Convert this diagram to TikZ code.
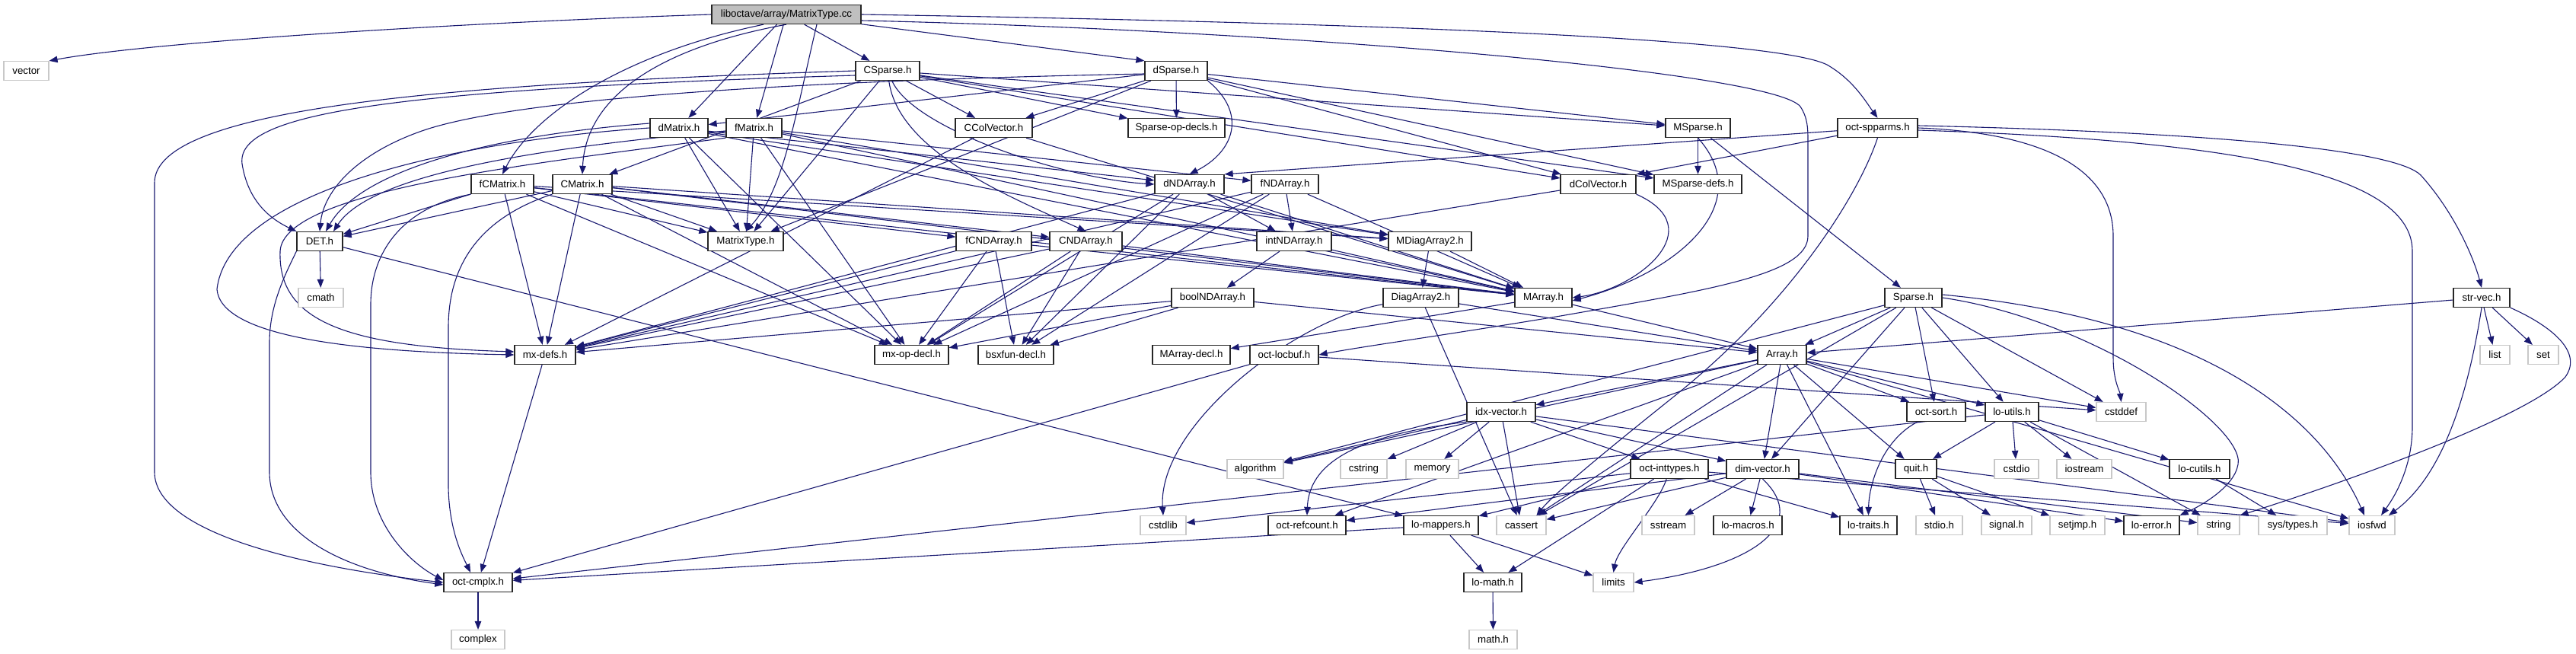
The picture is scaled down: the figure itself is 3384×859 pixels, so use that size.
\documentclass[tikz,border=0pt]{standalone}
\usepackage{fontspec}
\setmainfont{Liberation Sans}
\usetikzlibrary{arrows.meta}
\definecolor{edgec}{HTML}{191970}
\definecolor{rootfill}{HTML}{BFBFBF}
\definecolor{sysline}{HTML}{C8C8C8}
\pgfdeclarelayer{bg}
\pgfsetlayers{bg,main}
\tikzset{
 nbase/.style={rectangle, minimum height=25pt, inner sep=0pt, font=\fontsize{13.3}{15}\selectfont, text=black, fill=white},
 proj/.style={nbase, draw=black!85, line width=1.3pt},
 sysn/.style={nbase, draw=sysline, line width=1.2pt},
 rootn/.style={nbase, draw=black!85, line width=1.3pt, fill=rootfill},
 e/.style={draw=edgec, line width=1.1pt, -{Triangle[length=11pt,width=8.5pt]}},
}
\newcommand{\hn}[6]{\node[#1, minimum width={(#4-#3)*1pt}] (#2) at ({(#3+#4)/2*1pt},{-#5*1pt}) {#6};}
\begin{document}
\begin{tikzpicture}
\useasboundingbox (0,0) rectangle (3384pt,-859pt);
% row 0
\hn{rootn}{root}{935}{1131}{19}{liboctave/array/MatrixType.cc}
% row 1
\hn{sysn}{vector}{5}{64}{93}{vector}
\hn{proj}{csparse}{1124}{1208}{93}{CSparse.h}
\hn{proj}{dsparse}{1504}{1586}{93}{dSparse.h}
% row 2
\hn{proj}{dmatrix}{854}{930}{168}{dMatrix.h}
\hn{proj}{fmatrix}{954}{1027}{168}{fMatrix.h}
\hn{proj}{ccolvec}{1255}{1356}{168}{CColVector.h}
\hn{proj}{spopdecls}{1482}{1609}{168}{Sparse-op-decls.h}
\hn{proj}{msparse}{2188}{2273}{168}{MSparse.h}
\hn{proj}{ospparms}{2414}{2519}{168}{oct-spparms.h}
% row 3
\hn{proj}{fcmatrix}{619}{701}{242}{fCMatrix.h}
\hn{proj}{cmatrix}{726}{804}{242}{CMatrix.h}
\hn{proj}{dndarray}{1517}{1608}{242}{dNDArray.h}
\hn{proj}{fndarray}{1644}{1732}{242}{fNDArray.h}
\hn{proj}{dcolvec}{2050}{2149}{242}{dColVector.h}
\hn{proj}{msparsedefs}{2173}{2288}{242}{MSparse-defs.h}
% row 4
\hn{proj}{det}{390}{450}{317}{DET.h}
\hn{proj}{mtypeh}{930}{1029}{317}{MatrixType.h}
\hn{proj}{fcndarray}{1256}{1355}{317}{fCNDArray.h}
\hn{proj}{cndarray}{1379}{1474}{317}{CNDArray.h}
\hn{proj}{intndarray}{1651}{1749}{317}{intNDArray.h}
\hn{proj}{mdiag}{1824}{1933}{317}{MDiagArray2.h}
% row 5
\hn{sysn}{cmath}{392}{451}{391}{cmath}
\hn{proj}{boolnd}{1539}{1647}{391}{boolNDArray.h}
\hn{proj}{diag2}{1817}{1916}{391}{DiagArray2.h}
\hn{proj}{marray}{1990}{2065}{391}{MArray.h}
\hn{proj}{sparse}{2476}{2551}{391}{Sparse.h}
\hn{proj}{strvec}{3223}{3297}{391}{str-vec.h}
% row 6
\hn{proj}{mxdefs}{676}{756}{466}{mx-defs.h}
\hn{proj}{mxopdecl}{1149}{1246}{466}{mx-op-decl.h}
\hn{proj}{bsxfun}{1285}{1384}{466}{bsxfun-decl.h}
\hn{proj}{marraydecl}{1514}{1616}{466}{MArray-decl.h}
\hn{proj}{oclocbuf}{1642}{1732}{466}{oct-locbuf.h}
\hn{proj}{array}{2309}{2373}{466}{Array.h}
\hn{sysn}{list}{3258}{3297}{466}{list}
\hn{sysn}{set}{3321}{3361}{466}{set}
% row 7
\hn{proj}{idxvec}{1927}{2017}{541}{idx-vector.h}
\hn{proj}{octsort}{2505}{2582}{541}{oct-sort.h}
\hn{proj}{loutils}{2608}{2678}{541}{lo-utils.h}
\hn{sysn}{cstddef}{2754}{2819}{541}{cstddef}
% row 8
\hn{sysn}{algorithm}{1612}{1686}{616}{algorithm}
\hn{sysn}{cstring}{1761}{1822}{616}{cstring}
\hn{sysn}{memory}{1847}{1916}{616}{memory}
\hn{proj}{inttypes}{2142}{2244}{616}{oct-inttypes.h}
\hn{proj}{dimvec}{2268}{2363}{616}{dim-vector.h}
\hn{proj}{quit}{2490}{2544}{616}{quit.h}
\hn{sysn}{cstdio}{2620}{2678}{616}{cstdio}
\hn{sysn}{iostream}{2702}{2774}{616}{iostream}
\hn{proj}{locutils}{2850}{2929}{616}{lo-cutils.h}
% row 9
\hn{sysn}{cstdlib}{1498}{1558}{690}{cstdlib}
\hn{proj}{refcount}{1666}{1768}{690}{oct-refcount.h}
\hn{proj}{lomappers}{1844}{1942}{690}{lo-mappers.h}
\hn{sysn}{cassert}{1966}{2031}{690}{cassert}
\hn{sysn}{sstream}{2157}{2226}{690}{sstream}
\hn{proj}{lomacros}{2251}{2341}{690}{lo-macros.h}
\hn{proj}{lotraits}{2417}{2492}{690}{lo-traits.h}
\hn{sysn}{stdioh}{2517}{2578}{690}{stdio.h}
\hn{sysn}{signalh}{2603}{2669}{690}{signal.h}
\hn{sysn}{setjmp}{2693}{2765}{690}{setjmp.h}
\hn{proj}{loerror}{2790}{2863}{690}{lo-error.h}
\hn{sysn}{string}{2887}{2942}{690}{string}
\hn{sysn}{systypes}{2967}{3057}{690}{sys/types.h}
\hn{sysn}{iosfwd}{3086}{3146}{690}{iosfwd}
% row 10
\hn{proj}{octcmplx}{583}{673}{765}{oct-cmplx.h}
\hn{proj}{lomath}{1923}{1999}{765}{lo-math.h}
\hn{sysn}{limits}{2093}{2146}{765}{limits}
% row 11
\hn{sysn}{complex}{593}{663}{840}{complex}
\hn{sysn}{mathh}{1930}{1993}{840}{math.h}

\begin{pgfonlayer}{bg}
% root
\draw[e] (root.west) .. controls (600pt,-30pt) and (200pt,-55pt) .. (vector.north east);
\draw[e] (root) -- (csparse);
\draw[e] (root) -- (dsparse.north west);
\draw[e] (root) -- (dmatrix);
\draw[e] (root) -- (fmatrix);
\draw[e] (root.south) .. controls (880pt,-60pt) and (770pt,-120pt) .. (cmatrix.north);
\draw[e] ([xshift=-30pt]root.south) .. controls (820pt,-70pt) and (700pt,-150pt) .. (fcmatrix.north);
\draw[e] ([xshift=40pt]root.south) .. controls (1045pt,-150pt) and (1030pt,-250pt) .. (mtypeh.north);
\draw[e] (root.east) .. controls (1800pt,-30pt) and (2330pt,-50pt) .. (2400pt,-85pt) .. controls (2435pt,-105pt) and (2452pt,-135pt) .. (ospparms.north);
\draw[e] ([yshift=-8pt]root.east) .. controls (1700pt,-40pt) and (2330pt,-95pt) .. (2365pt,-140pt) .. controls (2375pt,-155pt) and (2375pt,-170pt) .. (2375pt,-185pt) -- (2375pt,-310pt) .. controls (2375pt,-360pt) and (2250pt,-380pt) .. (2050pt,-415pt) .. controls (1900pt,-440pt) and (1790pt,-455pt) .. (oclocbuf.east);
% CSparse
\draw[e] (csparse) -- (cmatrix);
\draw[e] (csparse) .. controls (1200pt,-170pt) and (1400pt,-235pt) .. (dndarray.west);
\draw[e] (csparse) .. controls (1180pt,-200pt) and (1330pt,-260pt) .. (cndarray.north);
\draw[e] (csparse) -- (dcolvec);
\draw[e] (csparse) -- (ccolvec);
\draw[e] (csparse) -- (msparse);
\draw[e] (csparse) -- (msparsedefs);
\draw[e] (csparse) -- (spopdecls);
\draw[e] (csparse) -- (mtypeh);
\draw[e] (csparse.west) .. controls (600pt,-110pt) and (203pt,-140pt) .. (203pt,-240pt) -- (203pt,-620pt) .. controls (203pt,-700pt) and (400pt,-745pt) .. (octcmplx.west);
\draw[e] ([yshift=-6pt]csparse.west) .. controls (500pt,-118pt) and (310pt,-150pt) .. (318pt,-215pt) .. controls (325pt,-260pt) and (350pt,-285pt) .. (det.north west);
% dSparse
\draw[e] (dsparse) -- (dmatrix);
\draw[e] (dsparse.south east) .. controls (1640pt,-150pt) and (1620pt,-200pt) .. (dndarray.north);
\draw[e] (dsparse) -- (dcolvec);
\draw[e] (dsparse) -- (ccolvec);
\draw[e] (dsparse) -- (msparse);
\draw[e] (dsparse) -- (msparsedefs);
\draw[e] (dsparse) -- (spopdecls);
\draw[e] (dsparse) -- (mtypeh);
\draw[e] ([yshift=-4pt]dsparse.west) .. controls (1100pt,-105pt) and (700pt,-125pt) .. (560pt,-170pt) .. controls (470pt,-200pt) and (425pt,-250pt) .. (det.north);
% dMatrix
\draw[e] (dmatrix) -- (dndarray);
\draw[e] (dmatrix) -- (marray);
\draw[e] (dmatrix) -- (mdiag);
\draw[e] (dmatrix) -- (mtypeh);
\draw[e] (dmatrix.west) .. controls (600pt,-185pt) and (300pt,-250pt) .. (285pt,-380pt) .. controls (290pt,-440pt) and (450pt,-462pt) .. (mxdefs.west);
\draw[e] (dmatrix) -- (mxopdecl);
\draw[e] ([yshift=6pt]dmatrix.west) .. controls (620pt,-180pt) and (470pt,-230pt) .. ([xshift=8pt]det.north);
% fMatrix
\draw[e] (fmatrix) -- (fndarray);
\draw[e] (fmatrix) -- (marray);
\draw[e] (fmatrix) -- (mdiag);
\draw[e] (fmatrix) -- (mtypeh);
\draw[e] (fmatrix.south west) .. controls (700pt,-215pt) and (372pt,-250pt) .. (368pt,-330pt) .. controls (365pt,-420pt) and (450pt,-455pt) .. ([yshift=4pt]mxdefs.west);
\draw[e] (fmatrix) -- (mxopdecl);
\draw[e] ([yshift=-4pt]fmatrix.west) .. controls (640pt,-200pt) and (480pt,-240pt) .. ([xshift=18pt]det.north);
% CMatrix
\draw[e] (cmatrix) -- (cndarray);
\draw[e] (cmatrix) -- (marray);
\draw[e] (cmatrix) -- (mdiag);
\draw[e] (cmatrix) -- (mtypeh);
\draw[e] (cmatrix) -- (mxdefs);
\draw[e] (cmatrix) -- (mxopdecl);
\draw[e] (cmatrix.south west) .. controls (650pt,-280pt) and (589pt,-330pt) .. (589pt,-430pt) -- (589pt,-640pt) .. controls (590pt,-700pt) and (610pt,-735pt) .. ([xshift=-10pt]octcmplx.north);
\draw[e] (cmatrix) -- (det);
% fCMatrix
\draw[e] (fcmatrix) -- (fcndarray);
\draw[e] (fcmatrix) -- (marray);
\draw[e] (fcmatrix) -- (mdiag);
\draw[e] (fcmatrix) -- (mtypeh);
\draw[e] (fcmatrix) -- (mxdefs);
\draw[e] (fcmatrix) -- (mxopdecl);
\draw[e] (fcmatrix.south west) .. controls (530pt,-272pt) and (487pt,-330pt) .. (487pt,-400pt) -- (487pt,-620pt) .. controls (487pt,-690pt) and (540pt,-740pt) .. ([yshift=3pt]octcmplx.west);
\draw[e] (fcmatrix) -- (det);
% column vectors
\draw[e] (ccolvec) -- (marray);
\draw[e] (ccolvec) -- (mxdefs);
\draw[e] (dcolvec.south east) .. controls (2250pt,-300pt) and (2150pt,-380pt) .. (marray.east);
\draw[e] (dcolvec) -- (mxdefs);
% MSparse
\draw[e] (msparse) -- (msparsedefs);
\draw[e] (msparse) -- (sparse);
\draw[e] (msparse.south) .. controls (2310pt,-270pt) and (2200pt,-360pt) .. ([yshift=-4pt]marray.east);
% oct-spparms
\draw[e] ([yshift=3pt]ospparms.east) .. controls (2950pt,-175pt) and (3150pt,-200pt) .. (3180pt,-230pt) .. controls (3225pt,-280pt) and (3250pt,-340pt) .. (strvec.north);
\draw[e] (ospparms) -- (dcolvec.north east);
\draw[e] (ospparms) -- (dndarray.north east);
\draw[e] (ospparms.south) .. controls (2440pt,-260pt) and (2350pt,-400pt) .. (2200pt,-520pt) .. controls (2100pt,-600pt) and (2040pt,-650pt) .. ([xshift=20pt]cassert.north);
\draw[e] (ospparms.east) .. controls (2700pt,-175pt) and (2776pt,-230pt) .. (2776pt,-310pt) -- (2776pt,-470pt) .. controls (2776pt,-500pt) and (2785pt,-515pt) .. (cstddef.north);
\draw[e] ([yshift=-3pt]ospparms.east) .. controls (2950pt,-185pt) and (3169pt,-230pt) .. (3169pt,-330pt) -- (3169pt,-560pt) .. controls (3169pt,-620pt) and (3140pt,-660pt) .. ([xshift=12pt]iosfwd.north);
% ND arrays
\draw[e] (dndarray) -- (marray);
\draw[e] (dndarray) -- (intndarray);
\draw[e] (dndarray) -- (mxdefs);
\draw[e] (dndarray) -- (mxopdecl);
\draw[e] (dndarray) -- (bsxfun);
\draw[e] (fndarray) -- (marray);
\draw[e] (fndarray) -- (intndarray);
\draw[e] (fndarray) -- (mxdefs);
\draw[e] (fndarray) -- (mxopdecl);
\draw[e] (fndarray) -- (bsxfun);
\draw[e] (cndarray) -- (marray);
\draw[e] (cndarray) -- (mxdefs);
\draw[e] (cndarray) -- (mxopdecl);
\draw[e] (cndarray) -- (bsxfun);
\draw[e] (fcndarray) -- (marray);
\draw[e] (fcndarray) -- (mxdefs);
\draw[e] (fcndarray) -- (mxopdecl);
\draw[e] (fcndarray) -- (bsxfun);
\draw[e] (intndarray) -- (marray);
\draw[e] (intndarray) -- (boolnd);
\draw[e] (boolnd) -- (array);
\draw[e] (boolnd) -- (mxdefs);
\draw[e] (boolnd) -- (mxopdecl);
\draw[e] (boolnd) -- (bsxfun);
% diag / marray
\draw[e] (mdiag) -- (diag2);
\draw[e] (mdiag) -- (marray);
\draw[e] (diag2) -- (array);
\draw[e] (diag2) -- (cassert);
\draw[e] (diag2) .. controls (1700pt,-420pt) and (1520pt,-560pt) .. (cstdlib.north);
\draw[e] (marray) -- (array);
\draw[e] (marray) -- (marraydecl);
% Sparse
\draw[e] (sparse) -- (array);
\draw[e] (sparse) -- (dimvec);
\draw[e] (sparse) -- (octsort);
\draw[e] (sparse) -- (loutils);
\draw[e] (sparse) -- (cstddef);
\draw[e] ([yshift=4pt]sparse.east) .. controls (2900pt,-420pt) and (3050pt,-550pt) .. ([xshift=-10pt]iosfwd.north);
\draw[e] (sparse.east) .. controls (2750pt,-420pt) and (2950pt,-560pt) .. (2940pt,-610pt) .. controls (2935pt,-640pt) and (2890pt,-665pt) .. (loerror.north east);
\draw[e] (sparse) -- (algorithm);
\draw[e] (sparse) -- (cassert);
% str-vec
\draw[e] (strvec) -- (array);
\draw[e] (strvec) -- (list);
\draw[e] (strvec) -- (set);
\draw[e] (strvec.south east) .. controls (3345pt,-425pt) and (3395pt,-460pt) .. (3370pt,-495pt) .. controls (3320pt,-550pt) and (3060pt,-640pt) .. (string.north east);
\draw[e] (strvec.south) .. controls (3245pt,-500pt) and (3215pt,-620pt) .. ([xshift=22pt]iosfwd.north);
% DET, mx-defs, oct-cmplx
\draw[e] (det) -- (cmath);
\draw[e] (det.south west) .. controls (375pt,-360pt) and (354pt,-400pt) .. (354pt,-450pt) -- (354pt,-620pt) .. controls (354pt,-700pt) and (450pt,-750pt) .. ([yshift=-3pt]octcmplx.west);
\draw[e] (det) -- (lomappers);
\draw[e] (mxdefs) -- (octcmplx);
\draw[e] (octcmplx) -- (complex);
% Array
\draw[e] (array) -- (dimvec);
\draw[e] (array) -- (idxvec);
\draw[e] (array) -- (lotraits);
\draw[e] (array) -- (loutils);
\draw[e] (array) -- (octsort);
\draw[e] (array) -- (quit);
\draw[e] (array) -- (refcount);
\draw[e] (array) -- (cassert);
\draw[e] (array) -- (cstddef);
\draw[e] (array) -- (algorithm);
\draw[e] (array) -- (iosfwd);
% idx-vector
\draw[e] (idxvec) -- (cassert);
\draw[e] (idxvec) -- (cstring);
\draw[e] (idxvec) -- (algorithm);
\draw[e] (idxvec) -- (iosfwd);
\draw[e] (idxvec) -- (memory);
\draw[e] (idxvec) -- (dimvec);
\draw[e] (idxvec) -- (inttypes);
\draw[e] (idxvec.south west) .. controls (1800pt,-570pt) and (1720pt,-600pt) .. (refcount.north);
% dim-vector
\draw[e] (dimvec) -- (cassert);
\draw[e] (dimvec.south) .. controls (2380pt,-690pt) and (2300pt,-745pt) .. (limits.east);
\draw[e] (dimvec) -- (sstream);
\draw[e] (dimvec) -- (string);
\draw[e] (dimvec) -- (loerror);
\draw[e] (dimvec) -- (lomacros);
\draw[e] (dimvec) -- (refcount);
% oct-inttypes
\draw[e] (inttypes) -- (cstdlib);
\draw[e] (inttypes) .. controls (2180pt,-660pt) and (2125pt,-720pt) .. (limits.north);
\draw[e] (inttypes) -- (iosfwd);
\draw[e] (inttypes) -- (lotraits);
\draw[e] (inttypes) -- (lomath);
\draw[e] (inttypes) -- (lomappers);
% lo-mappers, lo-math
\draw[e] (lomappers) -- (limits);
\draw[e] (lomappers) -- (lomath);
\draw[e] (lomappers) -- (octcmplx);
\draw[e] (lomath) -- (mathh);
% quit, lo-utils, misc
\draw[e] (quit) -- (stdioh);
\draw[e] (quit) -- (signalh);
\draw[e] (quit) -- (setjmp);
\draw[e] (loutils) -- (cstdio);
\draw[e] (loutils) -- (iostream);
\draw[e] (loutils) -- (string);
\draw[e] (loutils) -- (quit);
\draw[e] (loutils) -- (locutils);
\draw[e] (loutils) -- (octcmplx);
\draw[e] (locutils) -- (systypes);
\draw[e] (octsort) .. controls (2470pt,-580pt) and (2455pt,-640pt) .. (lotraits.north);
\draw[e] (oclocbuf) -- (cstddef);
\draw[e] (oclocbuf) -- (octcmplx);
\end{pgfonlayer}
\end{tikzpicture}
\end{document}
